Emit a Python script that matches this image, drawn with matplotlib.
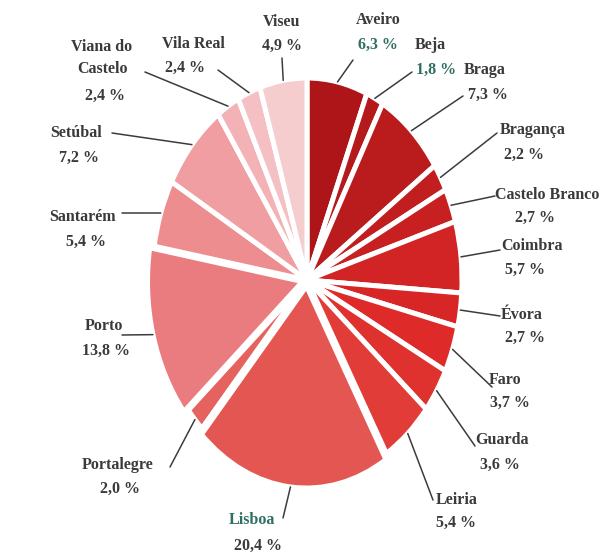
import numpy as np
import matplotlib
matplotlib.use('Agg')
import matplotlib.pyplot as plt

distritos = ['Aveiro', 'Beja', 'Braga', 'Bragança', 'Castelo Branco', 'Coimbra',
             'Évora', 'Faro', 'Guarda', 'Leiria', 'Lisboa', 'Portalegre', 'Porto',
             'Santarém', 'Setúbal', 'Viana do\nCastelo', 'Vila Real', 'Viseu']
percent = [6.3, 1.8, 7.3, 2.2, 2.7, 5.7, 2.7, 3.7, 3.6, 5.4, 20.4, 2.0, 13.8,
           5.4, 7.2, 2.4, 2.4, 4.9]
pct_labels = ['6,3 %', '1,8 %', '7,3 %', '2,2 %', '2,7 %', '5,7 %', '2,7 %', '3,7 %',
              '3,6 %', '5,4 %', '20,4 %', '2,0 %', '13,8 %', '5,4 %', '7,2 %', '2,4 %',
              '2,4 %', '4,9 %']

colors = ['#ad1518', '#b41a1c', '#ba1b1d', '#c21e1f', '#c82021', '#d22325',
          '#d82627', '#de2b2a', '#df322f', '#e13c38', '#e45652', '#e5625f',
          '#ea7c7f', '#ed8d90', '#f09ea2', '#f3b2b6', '#f5c0c3', '#f6cdcf']
explode = [0, 0, 0, 0, 0, 0, 0, 0, 0, 0, 0.03, 0, 0.03, 0, 0, 0, 0, 0]

# label layout in pixels (from top-left): name centre, pct centre, leader end
name_pos = [(378, 20), (430, 45), (485, 70), (533, 130), (547, 195), (532, 246),
            (522, 315), (505, 380), (502, 440), (457, 500), (252, 520), (118, 465),
            (104, 326), (82, 217), (76, 133), (102, 58), (193, 44), (282, 22)]
pct_pos = [(378, 45), (436, 70), (488, 95), (524, 155), (535, 218), (525, 270),
           (525, 338), (510, 403), (500, 465), (456, 523), (258, 546), (120, 489),
           (106, 351), (86, 242), (79, 158), (105, 96), (185, 68), (282, 46)]
line_end = [(353, 60), (412, 72), (463, 96), (497, 133), (495, 196), (500, 250),
            (500, 316), (492, 387), (475, 446), (433, 500), (283, 518), (170, 467),
            (122, 335), (122, 213), (112, 133), (145, 72), (218, 70), (282, 58)]
teal_name = ['Lisboa']
teal_pct = ['Aveiro', 'Beja']

W, H = 603, 559
CX, CY, RX, RY = 307, 280, 155, 202


def px(x, y):
    return (x - CX) / RX, (CY - y) / RY


fig = plt.figure(figsize=(W / 100, H / 100), dpi=100)
ax = fig.add_axes([0, 0, 1, 1])
wedges, _ = ax.pie(percent, colors=colors, startangle=90, counterclock=False,
                   explode=explode,
                   wedgeprops=dict(edgecolor='white', linewidth=3.6))
ax.set_aspect('auto')
ax.set_xlim(-CX / RX, (W - CX) / RX)
ax.set_ylim((CY - H) / RY, CY / RY)
ax.axis('off')

font = dict(family='Liberation Serif', fontsize=11.5, fontweight='bold')
for i, w in enumerate(wedges):
    name = distritos[i].replace('\n', ' ')
    t = np.deg2rad((w.theta1 + w.theta2) / 2)
    cx, cy = w.center
    ex, ey = cx + w.r * np.cos(t), cy + w.r * np.sin(t)
    lx, ly = px(*line_end[i])
    ax.plot([ex, lx], [ey, ly], color='#3c3c3c', lw=1.1, solid_capstyle='round')
    nc = '#2f6f62' if name in teal_name else '#3a3a3a'
    pc = '#2f6f62' if name in teal_pct else '#3a3a3a'
    ax.text(*px(*name_pos[i]), distritos[i], ha='center', va='center',
            color=nc, linespacing=1.5, **font)
    ax.text(*px(*pct_pos[i]), pct_labels[i], ha='center', va='center',
            color=pc, **font)

fig.savefig('out.png', dpi=100, facecolor='white')
